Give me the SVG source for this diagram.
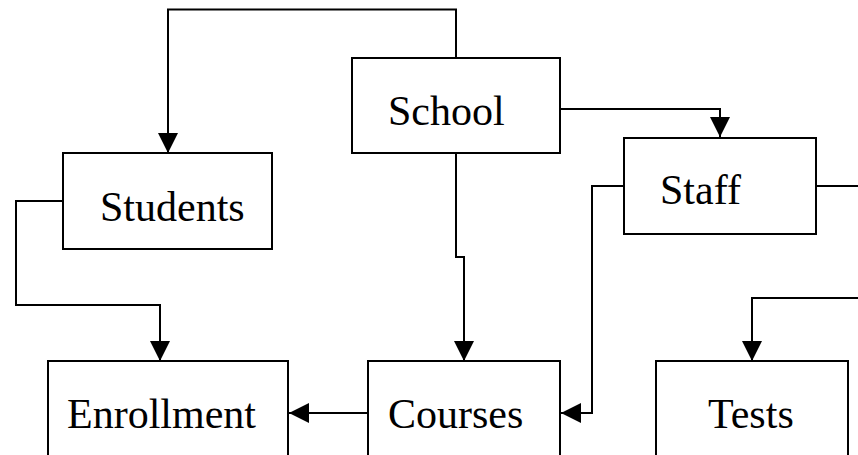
<svg xmlns="http://www.w3.org/2000/svg" width="858" height="455" viewBox="0 0 858 455">
  <style>
    .box { fill: #ffffff; stroke: #000000; stroke-width: 2; }
    .label { font-family: "Liberation Serif", "Times New Roman", serif; font-size: 42px; fill: #000000; }
    .link { fill: none; stroke: #000000; stroke-width: 2; marker-end: url(#arrow); }
    .plain { fill: none; stroke: #000000; stroke-width: 2; }
  </style>
  <defs>
    <marker id="arrow" markerUnits="userSpaceOnUse" markerWidth="20" markerHeight="20" refX="20" refY="10" orient="auto">
      <path d="M0,0 L20,10 L0,20 Z" fill="#000000"/>
    </marker>
  </defs>
  <rect width="858" height="455" fill="#ffffff"/>

  <g id="connectors">
    <!-- School to Students, over the top -->
    <path class="link" d="M456,58 V9.5 H168 V153"/>
    <!-- School to Staff -->
    <path class="link" d="M560,109 H720 V137"/>
    <!-- School to Courses -->
    <path class="link" d="M456,153 V257 H464 V361"/>
    <!-- Students to Enrollment -->
    <path class="link" d="M63,201 H16 V305 H160 V361"/>
    <!-- Staff to Courses -->
    <path class="link" d="M624,186 H592 V413 H561"/>
    <!-- Staff off to the right -->
    <path class="plain" d="M816,186 H858"/>
    <!-- from the right to Tests -->
    <path class="link" d="M858,298 H752 V361"/>
    <!-- Courses to Enrollment -->
    <path class="link" d="M368,413 H289"/>
  </g>

  <g id="school">
    <rect class="box" x="352" y="58" width="208" height="95"/>
    <text class="label" x="388" y="125">School</text>
  </g>
  <g id="students">
    <rect class="box" x="63" y="153" width="209" height="96"/>
    <text class="label" x="100" y="221">Students</text>
  </g>
  <g id="staff">
    <rect class="box" x="624" y="138" width="192" height="96"/>
    <text class="label" x="660" y="204">Staff</text>
  </g>
  <g id="enrollment">
    <rect class="box" x="48" y="361" width="240" height="110"/>
    <text class="label" x="67" y="428">Enrollment</text>
  </g>
  <g id="courses">
    <rect class="box" x="368" y="361" width="192" height="110"/>
    <text class="label" x="388" y="428">Courses</text>
  </g>
  <g id="tests">
    <rect class="box" x="656" y="361" width="192" height="110"/>
    <text class="label" x="708" y="428">Tests</text>
  </g>
</svg>
